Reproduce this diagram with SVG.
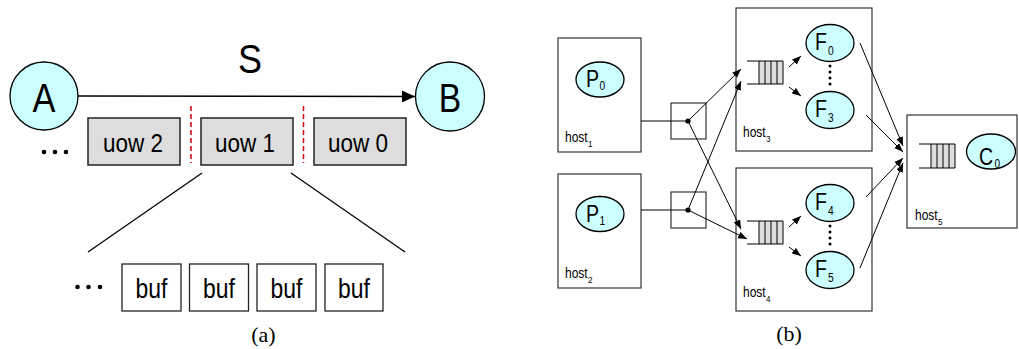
<svg xmlns="http://www.w3.org/2000/svg" width="1019" height="349" viewBox="0 0 1019 349">
  <style>
    .sans { font-family: "Liberation Sans", Arial, Helvetica, sans-serif; fill: #000; }
    .serif { font-family: "Liberation Serif", "Times New Roman", serif; font-size: 22px; fill: #000; }
    .mid { text-anchor: middle; }
    .cyan { fill: #ccffff; stroke: #000; stroke-width: 1.3; }
    .uow { fill: #dddddd; stroke: #222; stroke-width: 1.5; }
    .box { fill: #fff; stroke: #222; stroke-width: 1.3; }
    .host { fill: #fff; stroke: #333; stroke-width: 1.2; }
    .line { fill: none; stroke: #000; stroke-width: 1.3; }
    .thin { fill: none; stroke: #000; stroke-width: 1; }
    .cut { fill: none; stroke: #e00000; stroke-width: 1.5; stroke-dasharray: 5 3; }
    .qfill { fill: #dddddd; stroke: none; }
    .big { font-size: 40px; }
    .uowt { font-size: 25px; }
    .buft { font-size: 27px; }
    .name { font-size: 23px; }
    .sub { font-size: 12px; }
    .hl { font-size: 15px; }
    .hsub { font-size: 9.5px; }
  </style>
  <defs>
    <marker id="headBig" markerUnits="userSpaceOnUse" markerWidth="14" markerHeight="12" refX="13" refY="6" orient="auto">
      <path d="M0,0 L13,6 L0,12 Z" fill="#000"/>
    </marker>
    <marker id="headSm" markerUnits="userSpaceOnUse" markerWidth="10" markerHeight="8" refX="9" refY="3.5" orient="auto">
      <path d="M0,0 L9,3.5 L0,7 Z" fill="#000"/>
    </marker>
  </defs>

  <!-- ===== (a) stream of units of work ===== -->
  <g id="nodeA">
    <circle class="cyan" cx="44" cy="96" r="34"/>
    <text class="sans big mid" transform="translate(44 112) scale(0.86 1)">A</text>
  </g>
  <g id="nodeB">
    <circle class="cyan" cx="450" cy="96.5" r="34.5"/>
    <text class="sans big mid" transform="translate(450 112) scale(0.84 1)">B</text>
  </g>

  <g id="uow2">
    <rect class="uow" x="88" y="118" width="92" height="47"/>
    <text class="sans uowt mid" transform="translate(133 152) scale(0.9 1)">uow 2</text>
  </g>
  <g id="uow1">
    <rect class="uow" x="201" y="118" width="92" height="47"/>
    <text class="sans uowt mid" transform="translate(245 152) scale(0.9 1)">uow 1</text>
  </g>
  <g id="uow0">
    <rect class="uow" x="314" y="118" width="92" height="47"/>
    <text class="sans uowt mid" transform="translate(358 152) scale(0.9 1)">uow 0</text>
  </g>
  <g id="moreUow">
    <circle cx="44" cy="152" r="2.3"/>
    <circle cx="55" cy="152" r="2.3"/>
    <circle cx="66" cy="152" r="2.3"/>
  </g>

  <g id="buf1">
    <rect class="box" x="122" y="264" width="59" height="47"/>
    <text class="sans buft mid" transform="translate(151.5 298) scale(0.85 1)">buf</text>
  </g>
  <g id="buf2">
    <rect class="box" x="189.5" y="264" width="59" height="47"/>
    <text class="sans buft mid" transform="translate(219 298) scale(0.85 1)">buf</text>
  </g>
  <g id="buf3">
    <rect class="box" x="257" y="264" width="59" height="47"/>
    <text class="sans buft mid" transform="translate(286.5 298) scale(0.85 1)">buf</text>
  </g>
  <g id="buf4">
    <rect class="box" x="325" y="264" width="58" height="47"/>
    <text class="sans buft mid" transform="translate(354 298) scale(0.85 1)">buf</text>
  </g>
  <g id="moreBuf">
    <circle cx="77.5" cy="287" r="2.3"/>
    <circle cx="88.5" cy="287" r="2.3"/>
    <circle cx="100" cy="287" r="2.3"/>
  </g>

  <g id="connectorsA">
    <line class="line" x1="78" y1="96" x2="415" y2="96.5" marker-end="url(#headBig)"/>
    <text class="sans big mid" transform="translate(250 73) scale(0.9 1)">S</text>
    <line class="cut" x1="191" y1="106" x2="191" y2="163"/>
    <line class="cut" x1="303.5" y1="106" x2="303.5" y2="163"/>
    <line class="line" x1="202" y1="173" x2="88" y2="252"/>
    <line class="line" x1="291" y1="173" x2="405" y2="252"/>
  </g>
  <text class="serif mid" x="263.5" y="342">(a)</text>

  <!-- ===== (b) producers, filters and consumer on hosts ===== -->
  <g id="host1">
    <rect class="host" x="558" y="38" width="83" height="114"/>
    <ellipse class="cyan" cx="600" cy="79.5" rx="24" ry="17.5"/>
    <text class="sans name" transform="translate(586 87) scale(0.85 1)">P</text>
    <text class="sans sub" transform="translate(599.5 90) scale(0.85 1)">0</text>
    <text class="sans hl" transform="translate(565 142) scale(0.8 1)">host</text>
    <text class="sans hsub" transform="translate(588 147) scale(0.85 1)">1</text>
  </g>
  <g id="host2">
    <rect class="host" x="558" y="174" width="83" height="114"/>
    <ellipse class="cyan" cx="600" cy="214" rx="24" ry="17.5"/>
    <text class="sans name" transform="translate(586 222) scale(0.85 1)">P</text>
    <text class="sans sub" transform="translate(599.5 225) scale(0.85 1)">1</text>
    <text class="sans hl" transform="translate(565 278) scale(0.8 1)">host</text>
    <text class="sans hsub" transform="translate(588 283) scale(0.85 1)">2</text>
  </g>

  <g id="switch1">
    <rect class="host" x="671" y="103" width="35" height="36"/>
    <circle cx="688" cy="121" r="2.6"/>
  </g>
  <g id="switch2">
    <rect class="host" x="671" y="192" width="35" height="36"/>
    <circle cx="688" cy="210" r="2.6"/>
  </g>

  <g id="host3">
    <rect class="host" x="736" y="8" width="136" height="143"/>
    <rect class="qfill" x="759" y="61" width="24" height="23"/>
    <path class="thin" d="M747,61 H783 M747,84 H783 M759,61 V84 M765,61 V84 M771,61 V84 M777,61 V84 M783,61 V84"/>
    <ellipse class="cyan" cx="830" cy="43" rx="24" ry="18.5"/>
    <text class="sans name" transform="translate(815 50) scale(0.85 1)">F</text>
    <text class="sans sub" transform="translate(828 55) scale(0.85 1)">0</text>
    <ellipse class="cyan" cx="830" cy="110" rx="24" ry="18.5"/>
    <text class="sans name" transform="translate(815 117) scale(0.85 1)">F</text>
    <text class="sans sub" transform="translate(828 122) scale(0.85 1)">3</text>
    <circle cx="830" cy="66" r="1.5"/>
    <circle cx="830" cy="72" r="1.5"/>
    <circle cx="830" cy="78" r="1.5"/>
    <circle cx="830" cy="84" r="1.5"/>
    <text class="sans hl" transform="translate(743 137) scale(0.8 1)">host</text>
    <text class="sans hsub" transform="translate(766 142) scale(0.85 1)">3</text>
  </g>

  <g id="host4">
    <rect class="host" x="736" y="168" width="136" height="143"/>
    <rect class="qfill" x="759" y="221" width="24" height="23"/>
    <path class="thin" d="M747,221 H783 M747,244 H783 M759,221 V244 M765,221 V244 M771,221 V244 M777,221 V244 M783,221 V244"/>
    <ellipse class="cyan" cx="830" cy="203" rx="24" ry="18.5"/>
    <text class="sans name" transform="translate(815 210) scale(0.85 1)">F</text>
    <text class="sans sub" transform="translate(828 215) scale(0.85 1)">4</text>
    <ellipse class="cyan" cx="830" cy="270" rx="24" ry="18.5"/>
    <text class="sans name" transform="translate(815 277) scale(0.85 1)">F</text>
    <text class="sans sub" transform="translate(828 282) scale(0.85 1)">5</text>
    <circle cx="830" cy="226" r="1.5"/>
    <circle cx="830" cy="232" r="1.5"/>
    <circle cx="830" cy="238" r="1.5"/>
    <circle cx="830" cy="244" r="1.5"/>
    <text class="sans hl" transform="translate(743 297) scale(0.8 1)">host</text>
    <text class="sans hsub" transform="translate(766 302) scale(0.85 1)">4</text>
  </g>

  <g id="host5">
    <rect class="host" x="907" y="115" width="110" height="113"/>
    <rect class="qfill" x="931" y="144" width="24" height="24"/>
    <path class="thin" d="M919,144 H955 M919,168 H955 M931,144 V168 M937,144 V168 M943,144 V168 M949,144 V168 M955,144 V168"/>
    <ellipse class="cyan" cx="991" cy="151.5" rx="24.5" ry="17.5"/>
    <text class="sans name" transform="translate(979 165) scale(0.85 1)">C</text>
    <text class="sans sub" transform="translate(994.5 168) scale(0.85 1)">0</text>
    <text class="sans hl" transform="translate(915 220) scale(0.8 1)">host</text>
    <text class="sans hsub" transform="translate(938 225) scale(0.85 1)">5</text>
  </g>

  <g id="connectorsB">
    <line class="thin" x1="641" y1="121" x2="688" y2="121"/>
    <line class="thin" x1="641" y1="210" x2="688" y2="210"/>
    <line class="thin" x1="688" y1="121" x2="741" y2="69" marker-end="url(#headSm)"/>
    <line class="thin" x1="688" y1="121" x2="741" y2="229" marker-end="url(#headSm)"/>
    <line class="thin" x1="688" y1="210" x2="741" y2="81" marker-end="url(#headSm)"/>
    <line class="thin" x1="688" y1="210" x2="747" y2="239" marker-end="url(#headSm)"/>
    <line class="thin" x1="789" y1="67" x2="801" y2="56" marker-end="url(#headSm)"/>
    <line class="thin" x1="789" y1="87" x2="801" y2="96" marker-end="url(#headSm)"/>
    <line class="thin" x1="789" y1="227" x2="801" y2="216" marker-end="url(#headSm)"/>
    <line class="thin" x1="789" y1="247" x2="801" y2="256" marker-end="url(#headSm)"/>
    <line class="thin" x1="860" y1="43" x2="903" y2="146" marker-end="url(#headSm)"/>
    <line class="thin" x1="866" y1="115" x2="903" y2="152" marker-end="url(#headSm)"/>
    <line class="thin" x1="866" y1="197" x2="903" y2="158" marker-end="url(#headSm)"/>
    <line class="thin" x1="860" y1="268" x2="903" y2="163" marker-end="url(#headSm)"/>
  </g>
  <text class="serif mid" x="789" y="341">(b)</text>
</svg>
